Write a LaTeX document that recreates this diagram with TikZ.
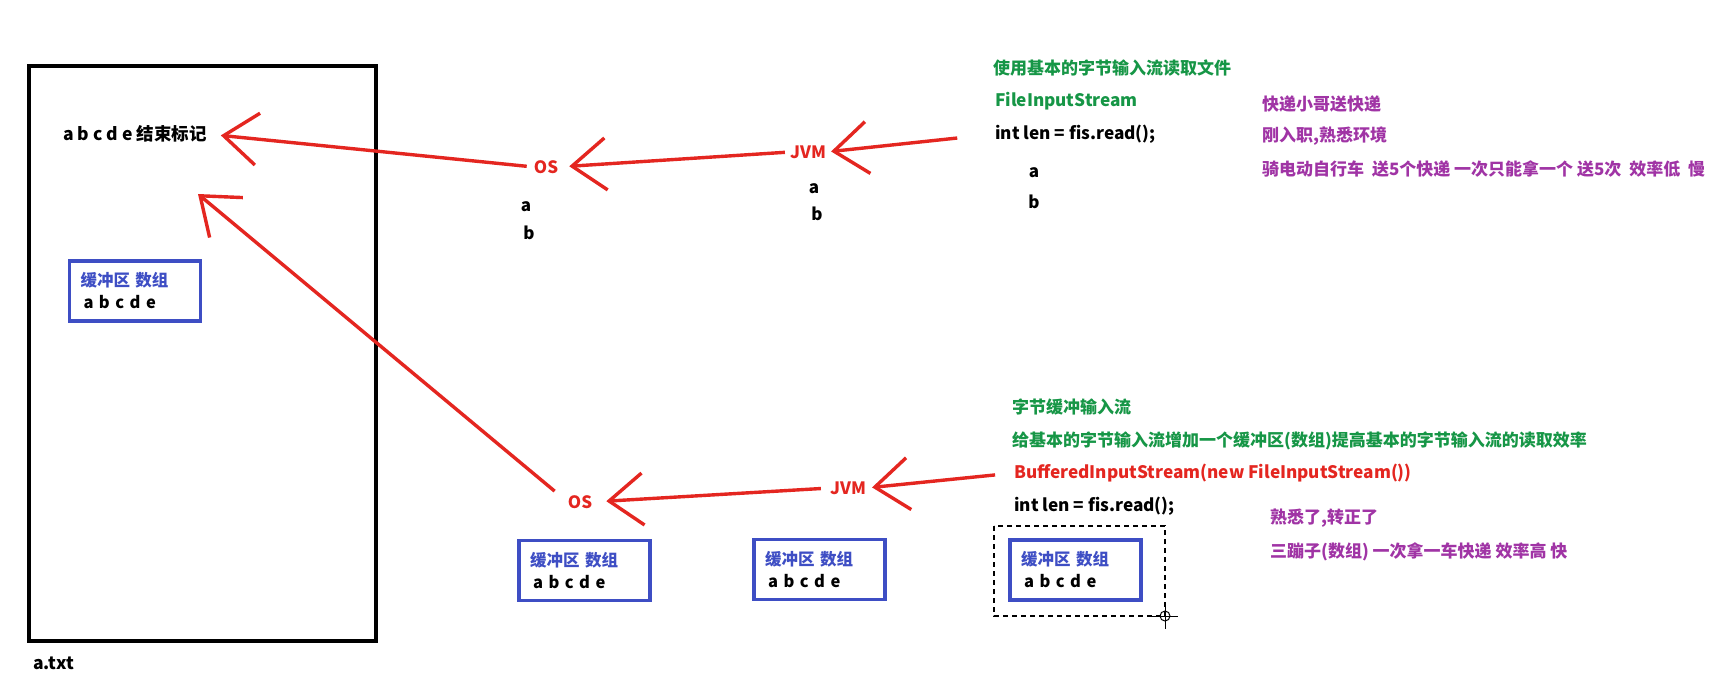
\documentclass[tikz,border=0pt]{standalone}
\usepackage{fontspec}
\usetikzlibrary{arrows.meta}
\newfontfamily\cjk{Noto Sans CJK SC}
\definecolor{myred}{RGB}{228,38,32}
\definecolor{mygreen}{RGB}{22,150,70}
\definecolor{mypurple}{RGB}{160,52,165}
\definecolor{boxblue}{RGB}{62,78,196}
\tikzset{
  cn/.style={font=\cjk\bfseries\fontsize{17}{20}\selectfont, inner sep=0pt, anchor=west},
  code/.style={font=\cjk\bfseries\fontsize{17.2}{20}\selectfont, inner sep=0pt, anchor=west},
  lbl/.style={font=\cjk\bfseries\fontsize{17}{20}\selectfont, inner sep=0pt, text=myred},
  arr/.style={draw=myred, line width=3.4pt, -{Straight Barb[length=34pt,width=52pt,line width=3.4pt]}},
  bufbox/.style={draw=boxblue, line width=3.5pt, minimum height=60pt, inner xsep=11pt, inner ysep=0pt,
     text width=109pt, align=left, font=\cjk\bfseries\fontsize{16.5}{22}\selectfont},
}
\newcommand{\buftext}{{\color{boxblue}缓冲区 数组}\\\hspace*{3pt}a\ b\ c\ d\ e}
\begin{document}
\begin{tikzpicture}[x=1pt,y=-1pt]
\useasboundingbox (0,0) rectangle (1724,698);
\fill[white] (0,0) rectangle (1724,698);

% file
\draw[line width=4pt] (29,66) rectangle (376,641);
\node[code,font=\cjk\bfseries\fontsize{17.5}{20}\selectfont] (atxt) at (33,663) {a.txt};
\node[cn,font=\cjk\bfseries\fontsize{17.5}{20}\selectfont] (endmark) at (63,134) {a\ b\ c\ d\ e 结束标记};
\node[bufbox] (buf0) at (135,291) {\buftext};

% top row
\node[lbl] (os1) at (546,167) {OS};
\node[lbl] (jvm1) at (808,152) {JVM};
\node[cn,anchor=center] (os1a) at (526,207) {a};
\node[cn,anchor=center] (os1b) at (529,233) {b};
\node[cn,anchor=center] (jvm1a) at (814,189) {a};
\node[cn,anchor=center] (jvm1b) at (817,214) {b};

\node[cn,text=mygreen] (t1) at (993,68) {使用基本的字节输入流读取文件};
\node[code,text=mygreen] (t2) at (995,101) {FileInputStream};
\node[code] (len1) at (995,134) {int len = fis.read();};
\node[cn,anchor=center] (ra) at (1034,173) {a};
\node[cn,anchor=center] (rb) at (1034,202) {b};
\node[cn,text=mypurple] (p1) at (1262,104) {快递小哥送快递};
\node[cn,text=mypurple] (p2) at (1262,136) {刚入职,熟悉环境};
\node[cn,text=mypurple] (p3) at (1262,169) {骑电动自行车\ \ 送5个快递 一次只能拿一个 送5次\ \ 效率低\ \ 慢};

\draw[arr, shorten <=38pt, shorten >=5pt] (len1.west) -- (jvm1.east);
\draw[arr, shorten <=5pt, shorten >=11pt] (jvm1.west) -- (os1.east);
\draw[arr, shorten <=7pt, shorten >=14pt] (os1.west) -- (endmark.east);

% bottom row
\node[lbl] (os2) at (580,502) {OS};
\node[lbl] (jvm2) at (848,488) {JVM};
\node[bufbox] (buf1) at (584.5,570.5) {\buftext};
\node[bufbox] (buf2) at (819.5,569.5) {\buftext};
\node[bufbox] (buf3) at (1075.5,570) {\buftext};
\draw[dash pattern=on 5pt off 4pt, line width=1.5pt] (994,526) rectangle (1165,616);
% cursor
\draw[line width=1pt] (1165,616) circle (5);
\draw[line width=1pt] (1165,603) -- (1165,629) (1152,616) -- (1178,616);

\node[cn,text=mygreen] (g1) at (1012,407) {字节缓冲输入流};
\node[cn,text=mygreen] (g2) at (1012,441) {给基本的字节输入流增加一个缓冲区(数组)提高基本的字节输入流的读取效率};
\node[code,text=myred] (bis) at (1014,473) {BufferedInputStream(new FileInputStream())};
\node[code] (len2) at (1014,506) {int len = fis.read();};
\node[cn,text=mypurple] (p4) at (1270,518) {熟悉了,转正了};
\node[cn,text=mypurple] (p5) at (1270,552) {三蹦子(数组) 一次拿一车快递 效率高 快};

\coordinate (bufin) at (198,194);
\draw[arr, shorten <=19pt, shorten >=6pt] (bis.west) -- (jvm2.east);
\draw[arr, shorten <=9pt, shorten >=14pt] (jvm2.west) -- (os2.east);
\draw[arr, shorten <=17pt] (os2.west) -- (bufin);
\end{tikzpicture}
\end{document}
